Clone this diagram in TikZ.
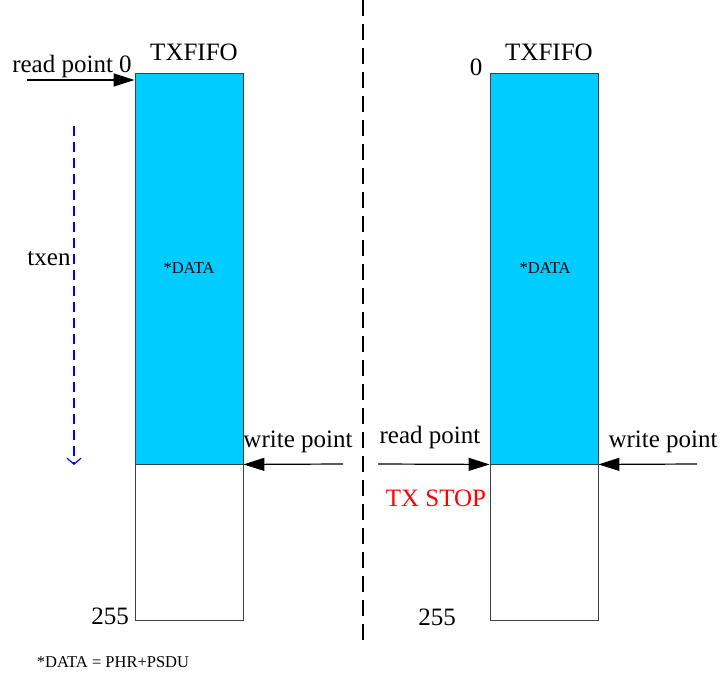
\documentclass[tikz,border=0pt]{standalone}
\usepackage{fontspec}
\setmainfont{Liberation Serif}
\usetikzlibrary{arrows.meta}
\definecolor{fifoblue}{HTML}{00CCFF}
\definecolor{edgegray}{HTML}{404040}
\begin{document}
\begin{tikzpicture}[x=1pt,y=-1pt,
  big/.style={font=\fontsize{25}{29}\selectfont, inner sep=0pt},
  small/.style={font=\fontsize{16.5}{19}\selectfont, inner sep=0pt},
  datapart/.style={draw=edgegray, fill=fifoblue, line width=0.9pt, minimum width=108pt, minimum height=391pt, inner sep=0pt},
  emptypart/.style={draw=edgegray, fill=white, line width=0.9pt, minimum width=108pt, minimum height=156pt, inner sep=0pt},
  ptr/.style={line width=1.2pt, -{Triangle[length=21pt,width=13pt]}},
  divider/.style={line width=1.3pt, dash pattern=on 16pt off 8pt}
]
\useasboundingbox (0,0) rectangle (721,677);
% FIFOs
\node[datapart] (ldata) at (189,268.5) {};
\node[emptypart] (lempty) at (189,542) {};
\node[datapart] (rdata) at (544,268.5) {};
\node[emptypart] (rempty) at (544,542) {};
\node[small] at (189,268) {*DATA};
\node[small] at (545,268) {*DATA};
% titles
\node[big] at (194,52) {TXFIFO};
\node[big] at (549,52) {TXFIFO};
\node[big] (rp0lbl) at (72,66) {read point 0};
\node[big] at (476,67) {0};
\node[big] at (110,616) {255};
\node[big] at (437,617) {255};
% divider
\coordinate (dtop) at (363,0);
\coordinate (dbot) at (363,645);
\draw[divider] (dtop) -- (dbot);
% left read pointer
\coordinate (lrp) at (27,80);
\draw[ptr] (lrp) -- (lrp -| ldata.west);
% txen
\coordinate (txa) at (74,126);
\coordinate (txb) at (74,465);
\draw[blue, line width=1.2pt, dash pattern=on 10pt off 6pt, -{Straight Barb[length=6pt,width=14pt]}] (txa) -- (txb);
\node[big] at (49,259) {txen};
% left write pointer
\coordinate (lwp) at (343,464);
\draw[ptr] (lwp) -- (ldata.south east);
\node[big] at (298,442) {write point};
% right read pointer
\coordinate (rrp) at (378,464);
\draw[ptr] (rrp) -- (rdata.south west);
\node[big] at (430,437) {read point};
\node[big, text=red] at (436,498) {TX STOP};
% right write pointer
\coordinate (rwp) at (697,464);
\draw[ptr] (rwp) -- (rdata.south east);
\node[big] at (663,442) {write point};
% note
\node[small] at (113,662) {*DATA = PHR+PSDU};
\end{tikzpicture}
\end{document}
